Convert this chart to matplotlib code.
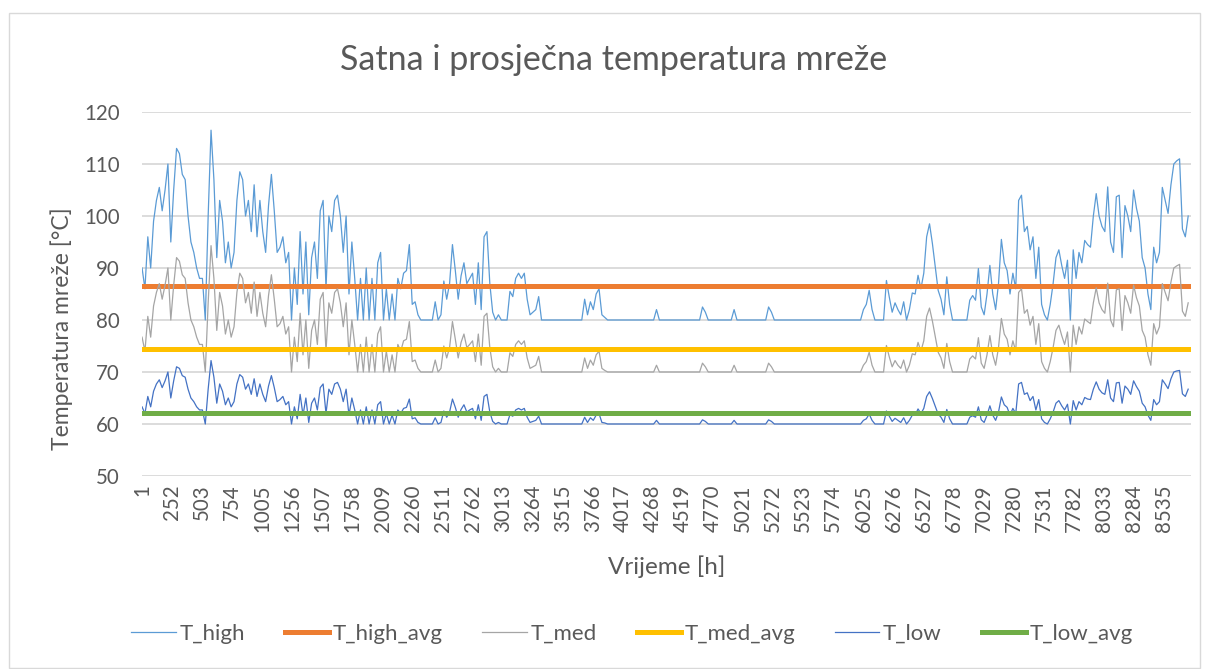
import numpy as np
import matplotlib.pyplot as plt
from matplotlib.patches import Rectangle

plt.rcParams['font.family'] = ['Lato', 'DejaVu Sans']

TEXT_COLOR = '#595959'
GRID_COLOR = '#D9D9D9'

# one reading per day (hour 1 + 24*i) of the hourly curves
T_HIGH = [
    90, 86, 96, 90, 99, 103, 105.5, 101, 105, 110,
    95, 105, 113, 112, 108, 107, 100, 95, 93, 90,
    88, 88, 80, 100, 116.5, 107, 92, 103, 99, 91,
    95, 90, 93, 103, 108.5, 107, 100, 103, 97, 106,
    96, 103, 97, 93, 102, 108, 101, 93, 94, 96,
    91, 93, 80, 90, 83, 97, 85, 95, 81, 92,
    95, 88, 101, 103, 86, 100, 97, 103, 104, 100,
    93, 100, 85, 95, 88, 80, 88, 80, 90, 80,
    88, 80, 91, 93, 80, 86, 80, 85, 80, 88,
    86, 89, 89.5, 94.5, 83, 83.5, 81, 80, 80, 80,
    80, 80, 83.5, 80, 81, 87.5, 84, 87, 94.5, 89.5,
    84, 88.5, 91, 87, 88, 89, 83, 91, 82, 96,
    97, 87, 81.5, 80, 81, 80, 80, 80, 85.5, 84.5,
    88, 89, 88, 89, 84, 81, 81.5, 82, 84.5, 80,
    80, 80, 80, 80, 80, 80, 80, 80, 80, 80,
    80, 80, 80, 80, 84, 81, 83.5, 82, 85, 86,
    81, 80.5, 80, 80, 80, 80, 80, 80, 80, 80,
    80, 80, 80, 80, 80, 80, 80, 80, 80, 82,
    80, 80, 80, 80, 80, 80, 80, 80, 80, 80,
    80, 80, 80, 80, 80, 82.5, 81.5, 80, 80, 80,
    80, 80, 80, 80, 80, 80, 82, 80, 80, 80,
    80, 80, 80, 80, 80, 80, 80, 80, 82.5, 81.5,
    80, 80, 80, 80, 80, 80, 80, 80, 80, 80,
    80, 80, 80, 80, 80, 80, 80, 80, 80, 80,
    80, 80, 80, 80, 80, 80, 80, 80, 80, 80,
    80, 82, 83, 85.7, 82, 80, 80, 80, 80, 87.6,
    84.4, 81.5, 83.3, 82, 81, 83.5, 80, 82, 85.2, 85,
    88.6, 86, 89, 96, 98.5, 94.7, 90.2, 85.7, 84, 81,
    88.3, 83, 80, 80, 80, 80, 80, 80, 83.8, 84.7,
    83.8, 89.9, 82.5, 81, 85, 90.5, 85, 82, 87, 95.5,
    91, 89.5, 85, 89, 86, 103, 104, 97, 98, 93.5,
    96, 88, 94, 83, 81, 80, 83, 87, 92, 93.5,
    90.5, 88, 91.5, 80, 93.5, 88, 93, 91, 95.3, 94.5,
    94, 100, 104.3, 100, 98, 97, 105.6, 95, 93, 103.7,
    104, 92, 102, 100, 97, 105, 101.5, 99, 92, 90,
    85, 82, 94, 91, 93, 105.5, 103, 100.5, 106, 110,
    110.6, 111, 97.5, 96, 100,
]

T_MED = [
    76.7, 74, 80.7, 76.7, 82.7, 85.3, 87, 84, 86.7, 90,
    80, 86.7, 92, 91.3, 88.7, 88, 83.3, 80, 78.7, 76.7,
    75.3, 75.3, 70, 83.3, 94.3, 88, 78, 85.3, 82.7, 77.3,
    80, 76.7, 78.7, 85.3, 89, 88, 83.3, 85.3, 81.3, 87.3,
    80.7, 85.3, 81.3, 78.7, 84.7, 88.7, 84, 78.7, 79.3, 80.7,
    77.3, 78.7, 70, 76.7, 72, 81.3, 73.3, 80, 70.7, 78,
    80, 75.3, 84, 85.3, 74, 83.3, 81.3, 85.3, 86, 83.3,
    78.7, 83.3, 73.3, 80, 75.3, 70, 75.3, 70, 76.7, 70,
    75.3, 70, 77.3, 78.7, 70, 74, 70, 73.3, 70, 75.3,
    74, 76, 76.3, 79.7, 72, 72.3, 70.7, 70, 70, 70,
    70, 70, 72.3, 70, 70.7, 75, 72.7, 74.7, 79.7, 76.3,
    72.7, 75.7, 77.3, 74.7, 75.3, 76, 72, 77.3, 71.3, 80.7,
    81.3, 74.7, 71, 70, 70.7, 70, 70, 70, 73.7, 73,
    75.3, 76, 75.3, 76, 72.7, 70.7, 71, 71.3, 73, 70,
    70, 70, 70, 70, 70, 70, 70, 70, 70, 70,
    70, 70, 70, 70, 72.7, 70.7, 72.3, 71.3, 73.3, 74,
    70.7, 70.3, 70, 70, 70, 70, 70, 70, 70, 70,
    70, 70, 70, 70, 70, 70, 70, 70, 70, 71.3,
    70, 70, 70, 70, 70, 70, 70, 70, 70, 70,
    70, 70, 70, 70, 70, 71.7, 71, 70, 70, 70,
    70, 70, 70, 70, 70, 70, 71.3, 70, 70, 70,
    70, 70, 70, 70, 70, 70, 70, 70, 71.7, 71,
    70, 70, 70, 70, 70, 70, 70, 70, 70, 70,
    70, 70, 70, 70, 70, 70, 70, 70, 70, 70,
    70, 70, 70, 70, 70, 70, 70, 70, 70, 70,
    70, 71.3, 72, 73.8, 71.3, 70, 70, 70, 70, 75.1,
    72.9, 71, 72.2, 71.3, 70.7, 72.3, 70, 71.3, 73.5, 73.3,
    75.7, 74, 76, 80.7, 82.3, 79.8, 76.8, 73.8, 72.7, 70.7,
    75.5, 72, 70, 70, 70, 70, 70, 70, 72.5, 73.1,
    72.5, 76.6, 71.7, 70.7, 73.3, 77, 73.3, 71.3, 74.7, 80.3,
    77.3, 76.3, 73.3, 76, 74, 85.3, 86, 81.3, 82, 79,
    80.7, 75.3, 79.3, 72, 70.7, 70, 72, 74.7, 78, 79,
    77, 75.3, 77.7, 70, 79, 75.3, 78.7, 77.3, 80.2, 79.7,
    79.3, 83.3, 86.2, 83.3, 82, 81.3, 87.1, 80, 78.7, 85.8,
    86, 78, 84.7, 83.3, 81.3, 86.7, 84.3, 82.7, 78, 76.7,
    73.3, 71.3, 79.3, 77.3, 78.7, 87, 85.3, 83.7, 87.3, 90,
    90.4, 90.7, 81.7, 80.7, 83.3,
]

T_LOW = [
    63.3, 62, 65.3, 63.3, 66.3, 67.7, 68.5, 67, 68.3, 70,
    65, 68.3, 71, 70.7, 69.3, 69, 66.7, 65, 64.3, 63.3,
    62.7, 62.7, 60, 66.7, 72.2, 69, 64, 67.7, 66.3, 63.7,
    65, 63.3, 64.3, 67.7, 69.5, 69, 66.7, 67.7, 65.7, 68.7,
    65.3, 67.7, 65.7, 64.3, 67.3, 69.3, 67, 64.3, 64.7, 65.3,
    63.7, 64.3, 60, 63.3, 61, 65.7, 61.7, 65, 60.3, 64,
    65, 62.7, 67, 67.7, 62, 66.7, 65.7, 67.7, 68, 66.7,
    64.3, 66.7, 61.7, 65, 62.7, 60, 62.7, 60, 63.3, 60,
    62.7, 60, 63.7, 64.3, 60, 62, 60, 61.7, 60, 62.7,
    62, 63, 63.2, 64.8, 61, 61.2, 60.3, 60, 60, 60,
    60, 60, 61.2, 60, 60.3, 62.5, 61.3, 62.3, 64.8, 63.2,
    61.3, 62.8, 63.7, 62.3, 62.7, 63, 61, 63.7, 60.7, 65.3,
    65.7, 62.3, 60.5, 60, 60.3, 60, 60, 60, 61.8, 61.5,
    62.7, 63, 62.7, 63, 61.3, 60.3, 60.5, 60.7, 61.5, 60,
    60, 60, 60, 60, 60, 60, 60, 60, 60, 60,
    60, 60, 60, 60, 61.3, 60.3, 61.2, 60.7, 61.7, 62,
    60.3, 60.2, 60, 60, 60, 60, 60, 60, 60, 60,
    60, 60, 60, 60, 60, 60, 60, 60, 60, 60.7,
    60, 60, 60, 60, 60, 60, 60, 60, 60, 60,
    60, 60, 60, 60, 60, 60.8, 60.5, 60, 60, 60,
    60, 60, 60, 60, 60, 60, 60.7, 60, 60, 60,
    60, 60, 60, 60, 60, 60, 60, 60, 60.8, 60.5,
    60, 60, 60, 60, 60, 60, 60, 60, 60, 60,
    60, 60, 60, 60, 60, 60, 60, 60, 60, 60,
    60, 60, 60, 60, 60, 60, 60, 60, 60, 60,
    60, 60.7, 61, 61.9, 60.7, 60, 60, 60, 60, 62.5,
    61.5, 60.5, 61.1, 60.7, 60.3, 61.2, 60, 60.7, 61.7, 61.7,
    62.9, 62, 63, 65.3, 66.2, 64.9, 63.4, 61.9, 61.3, 60.3,
    62.8, 61, 60, 60, 60, 60, 60, 60, 61.3, 61.6,
    61.3, 63.3, 60.8, 60.3, 61.7, 63.5, 61.7, 60.7, 62.3, 65.2,
    63.7, 63.2, 61.7, 63, 62, 67.7, 68, 65.7, 66, 64.5,
    65.3, 62.7, 64.7, 61, 60.3, 60, 61, 62.3, 64, 64.5,
    63.5, 62.7, 63.8, 60, 64.5, 62.7, 64.3, 63.7, 65.1, 64.8,
    64.7, 66.7, 68.1, 66.7, 66, 65.7, 68.5, 65, 64.3, 67.9,
    68, 64, 67.3, 66.7, 65.7, 68.3, 67.2, 66.3, 64, 63.3,
    61.7, 60.7, 64.7, 63.7, 64.3, 68.5, 67.7, 66.8, 68.7, 70,
    70.2, 70.3, 65.8, 65.3, 66.7,
]

T_HIGH_AVG = 86.5
T_MED_AVG = 74.4
T_LOW_AVG = 62.1

TICK_HOURS = [1, 252, 503, 754, 1005, 1256, 1507, 1758, 2009, 2260,
              2511, 2762, 3013, 3264, 3515, 3766, 4017, 4268, 4519, 4770,
              5021, 5272, 5523, 5774, 6025, 6276, 6527, 6778, 7029, 7280,
              7531, 7782, 8033, 8284, 8535]
N_HOURS = 8760


def hours_for(series):
    return 1 + 24 * np.arange(len(series))


fig = plt.figure(figsize=(12.09, 6.69), dpi=100)
fig.patches.append(Rectangle((9 / 1209, 0.002), 1191 / 1209, 1 - 13 / 669 - 0.002,
                             transform=fig.transFigure, fill=False,
                             edgecolor=GRID_COLOR, linewidth=1.0))

ax = fig.add_axes([142 / 1209, 1 - 476 / 669, 1049 / 1209, 364 / 669])

span = [1, N_HOURS]
ax.plot(hours_for(T_HIGH), T_HIGH, color='#5B9BD5', lw=0.9, label='T_high')
ax.plot(span, [T_HIGH_AVG] * 2, color='#ED7D31', lw=3.6, label='T_high_avg')
ax.plot(hours_for(T_MED), T_MED, color='#A5A5A5', lw=0.9, label='T_med')
ax.plot(span, [T_MED_AVG] * 2, color='#FFC000', lw=3.6, label='T_med_avg')
ax.plot(hours_for(T_LOW), T_LOW, color='#4472C4', lw=0.9, label='T_low')
ax.plot(span, [T_LOW_AVG] * 2, color='#70AD47', lw=3.6, label='T_low_avg')

ax.set_xlim(0.5, N_HOURS + 0.5)
ax.set_ylim(50, 120)
ax.set_yticks(np.arange(50, 121, 10))
ax.set_xticks(TICK_HOURS)
ax.set_xticklabels([str(h) for h in TICK_HOURS], rotation=90)
ax.tick_params(axis='both', length=0, labelsize=14.8, colors=TEXT_COLOR)
ax.tick_params(axis='x', pad=6)
ax.tick_params(axis='y', pad=16)
ax.grid(axis='y', color=GRID_COLOR, lw=1.3)
ax.set_axisbelow(True)
for s in ax.spines.values():
    s.set_visible(False)

fig.text(0.5 * (337 + 890) / 1209, 1 - 60 / 669, 'Satna i prosječna temperatura mreže',
         ha='center', va='center', fontsize=24.5, color=TEXT_COLOR)
fig.text(62 / 1209, 1 - 329 / 669, 'Temperatura mreže [°C]', rotation=90,
         ha='center', va='center', fontsize=16.5, color=TEXT_COLOR)
fig.text(667 / 1209, 1 - 567 / 669, 'Vrijeme [h]',
         ha='center', va='center', fontsize=17.5, color=TEXT_COLOR)

handles, labels = ax.get_legend_handles_labels()
leg = fig.legend(handles, labels, loc='center', ncol=6,
                 bbox_to_anchor=(632 / 1209, 1 - 634 / 669), frameon=False,
                 fontsize=16, handlelength=2.0, handletextpad=0.15,
                 columnspacing=1.8)
for t in leg.get_texts():
    t.set_color(TEXT_COLOR)

fig.savefig('out.png', dpi=100)
